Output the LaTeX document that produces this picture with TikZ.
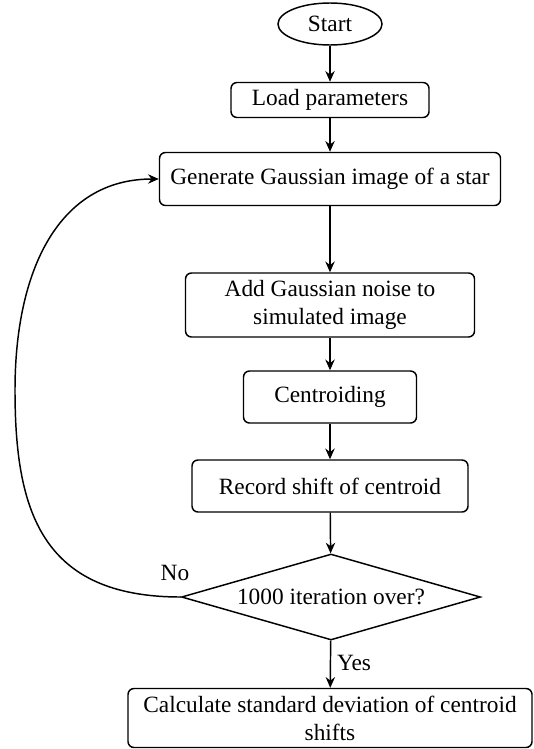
\documentclass[tikz,border=0pt]{standalone}
\usepackage{fontspec}
\setmainfont{Liberation Serif}
\usetikzlibrary{shapes.geometric,arrows.meta}

\tikzset{
	procbox/.style={draw, rounded corners=4.5pt, line width=1.1pt, align=center, inner sep=0pt},
	termbox/.style={draw, ellipse, line width=1.1pt, inner sep=0pt},
	decbox/.style={draw, diamond, line width=1.1pt, inner sep=0pt, aspect=3.48},
	flow/.style={line width=1.1pt, -{Stealth[length=8pt,width=7pt]}},
}

\begin{document}
\begin{tikzpicture}[x=0.75pt, y=-0.75pt, font=\fontsize{17.5}{21}\selectfont]
	\useasboundingbox (0,0) rectangle (533,749);
	\node[termbox, minimum width=78pt, minimum height=31.5pt] (start) at (330,24) {Start};
	\node[procbox, minimum width=148.5pt, minimum height=26.25pt] (load) at (330,100) {Load parameters};
	\node[procbox, minimum width=255.75pt, minimum height=39.75pt] (gen) at (330,179) {Generate Gaussian image of a star};
	\node[procbox, minimum width=216.75pt, minimum height=48pt] (noise) at (330,305) {Add Gaussian noise to\\simulated image};
	\node[procbox, minimum width=129.75pt, minimum height=39pt] (cent) at (330,397) {Centroiding};
	\node[procbox, minimum width=207pt, minimum height=39pt] (record) at (330,486) {Record shift of centroid};
	\node[decbox, minimum width=224.25pt, minimum height=64.5pt] (dec) at (331,597) {1000 iteration over?};
	\node[procbox, minimum width=303pt, minimum height=44.25pt] (calc) at (330,718) {Calculate standard deviation of centroid\\shifts};
	\node (lblno) at (175,573) {No};
	\node (lblyes) at (354,663) {Yes};
	\coordinate (loopleft) at (15,390);

	\draw[flow] (start) -- (load);
	\draw[flow] (load) -- (gen);
	\draw[flow] (gen) -- (noise);
	\draw[flow] (noise) -- (cent);
	\draw[flow] (cent) -- (record);
	\draw[flow] (record) -- (dec);
	\draw[flow] (dec) -- (calc);
	% loop back when not done
	\draw[flow] (dec.west) .. controls +(-140,0) and +(0,120) .. (loopleft)
		.. controls +(0,-120) and +(-100,0) .. (gen.west);
\end{tikzpicture}
\end{document}
